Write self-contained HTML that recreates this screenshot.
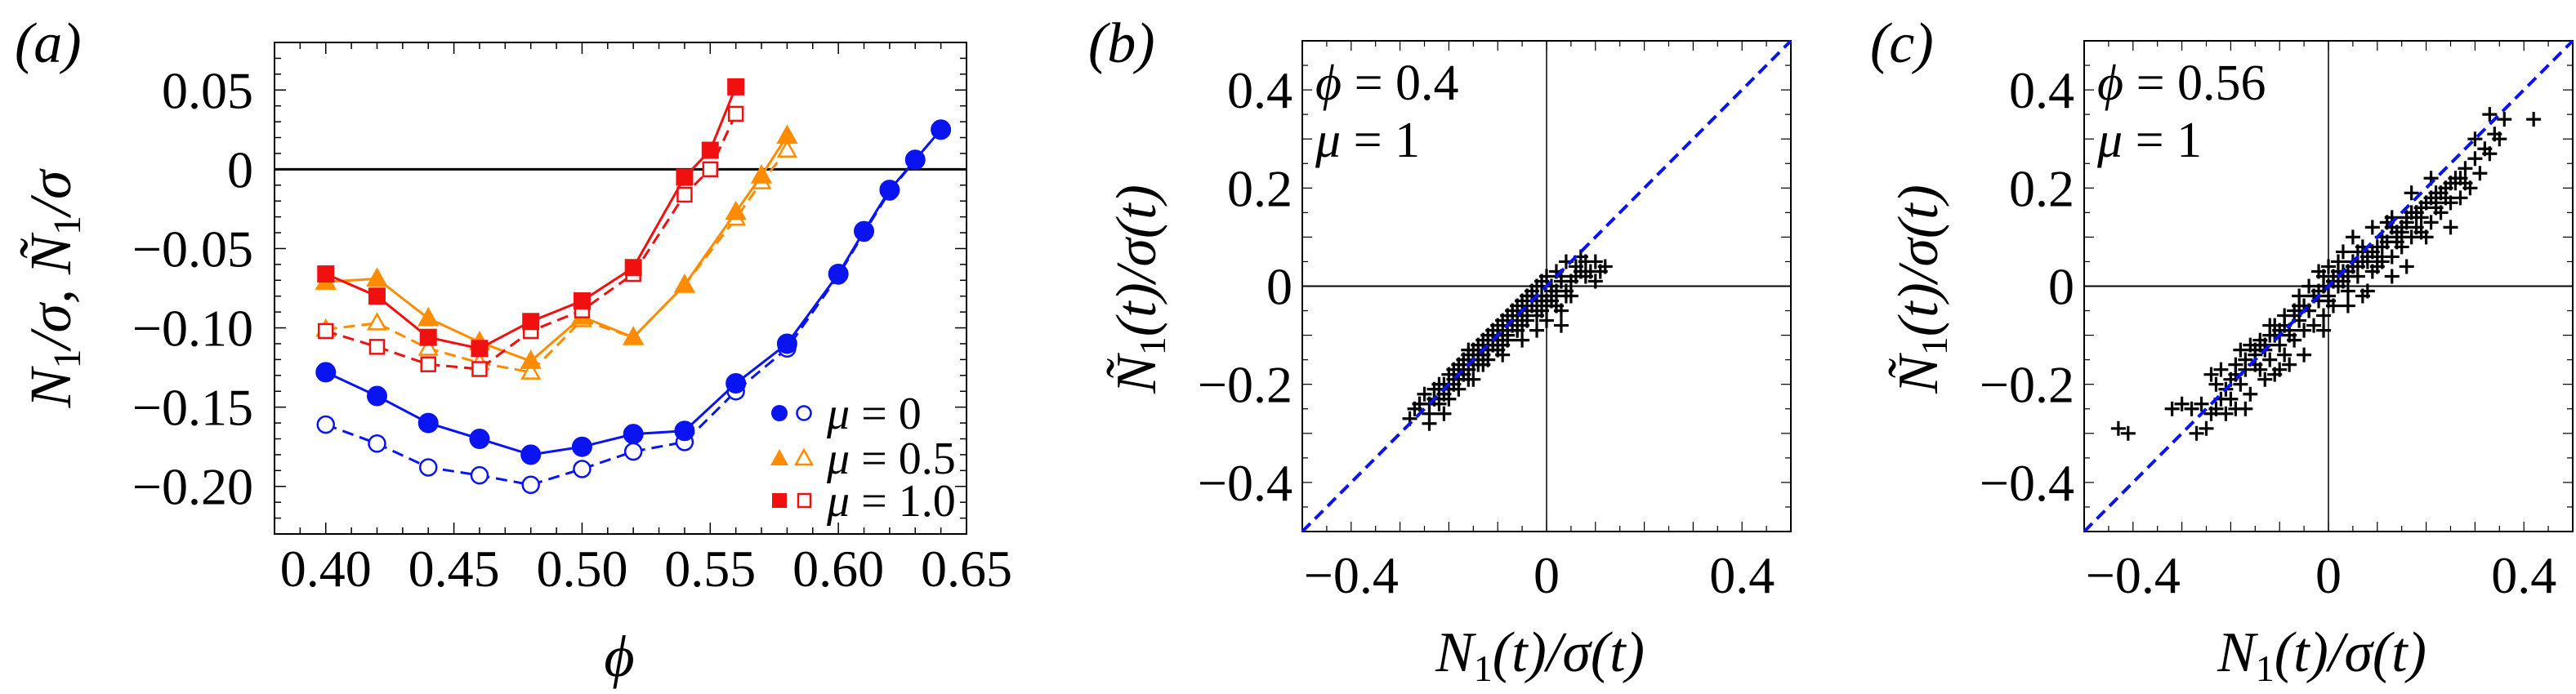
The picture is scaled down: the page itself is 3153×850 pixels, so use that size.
<!DOCTYPE html>
<html><head><meta charset="utf-8">
<style>
html,body{margin:0;padding:0;background:#fff;}
svg{display:block;font-family:"Liberation Serif","DejaVu Serif",serif;}
</style></head>
<body>
<svg id="fig" width="3153" height="850" viewBox="0 0 3153 850" xmlns="http://www.w3.org/2000/svg"></svg>
<script>
// ---------- Panel (a) data ----------
const phiMu0 = [0.40,0.42,0.44,0.46,0.48,0.50,0.52,0.54,0.56,0.58,0.60,0.61,0.62,0.63,0.64];
const n1Mu0 = [-0.128,-0.143,-0.160,-0.170,-0.180,-0.175,-0.167,-0.165,-0.135,-0.110,-0.066,-0.039,-0.013,0.006,0.025];
const n1tMu0 = [-0.161,-0.173,-0.188,-0.193,-0.199,-0.189,-0.178,-0.172,-0.140,-0.113,-0.067,-0.040,-0.014,0.006,0.025];
const phiMu05 = [0.40,0.42,0.44,0.46,0.48,0.50,0.52,0.54,0.56,0.57,0.58];
const n1Mu05 = [-0.071,-0.069,-0.094,-0.109,-0.121,-0.093,-0.106,-0.073,-0.027,-0.004,0.021];
const n1tMu05 = [-0.101,-0.097,-0.113,-0.122,-0.128,-0.095,-0.106,-0.073,-0.031,-0.008,0.012];
const phiMu1 = [0.40,0.42,0.44,0.46,0.48,0.50,0.52,0.54,0.55,0.56];
const n1Mu1 = [-0.066,-0.080,-0.106,-0.113,-0.096,-0.083,-0.062,-0.005,0.012,0.052];
const n1tMu1 = [-0.102,-0.112,-0.123,-0.126,-0.102,-0.089,-0.066,-0.016,0.000,0.035];
const aXTicks = [0.40,0.45,0.50,0.55,0.60,0.65];
const aXTickLabels = ["0.40","0.45","0.50","0.55","0.60","0.65"];
const aYTicks = [0.05,0,-0.05,-0.10,-0.15,-0.20];
const aYTickLabels = ["0.05","0","\u22120.05","\u22120.10","\u22120.15","\u22120.20"];
// ---------- Panels (b),(c) data ----------
const sTicks = [-0.4,0,0.4];
const sTickLabels = ["\u22120.4","0","0.4"];
const sYTicks = [0.4,0.2,0,-0.2,-0.4];
const sYTickLabels = ["0.4","0.2","0","\u22120.2","\u22120.4"];
const scatterBX = [-0.28,-0.27,-0.26,-0.25,-0.24,-0.23,-0.22,-0.22,-0.21,-0.20,-0.20,-0.19,-0.19,-0.18,-0.18,-0.17,-0.17,-0.16,-0.16,-0.15,-0.15,-0.14,-0.14,-0.13,-0.13,-0.12,-0.12,-0.11,-0.11,-0.10,-0.10,-0.09,-0.09,-0.08,-0.08,-0.07,-0.07,-0.06,-0.06,-0.05,-0.05,-0.04,-0.04,-0.03,-0.03,-0.02,-0.02,-0.01,-0.01,0.00,0.00,0.01,0.01,0.02,0.02,0.03,0.03,0.04,0.05,0.05,0.06,0.07,0.08,0.09,0.10,0.11,0.12,0.02,0.03,0.00,-0.02,-0.05,-0.09,-0.13,-0.21,-0.24,-0.26,-0.15,-0.12,-0.08,-0.06,-0.04,-0.10,-0.14,0.04,0.06,-0.01,-0.03,-0.07,-0.11,-0.16,
  -0.23,-0.21,-0.19,-0.17,-0.15,-0.13,-0.11,-0.09,-0.07,-0.05,-0.03,-0.01,0.01,0.03,-0.20,-0.18,-0.16,-0.14,-0.12,-0.10,-0.08,-0.06,-0.04,-0.02,0.00,0.02,0.04,0.08,0.10,0.07,-0.24,-0.22,-0.18,-0.14,-0.10,-0.06,-0.02,0.01,-0.20,-0.17,-0.13,-0.09,-0.05];
const scatterBY = [-0.27,-0.25,-0.24,-0.22,-0.26,-0.21,-0.24,-0.20,-0.22,-0.18,-0.21,-0.17,-0.20,-0.16,-0.19,-0.15,-0.18,-0.14,-0.17,-0.13,-0.16,-0.12,-0.15,-0.11,-0.14,-0.10,-0.13,-0.09,-0.12,-0.08,-0.11,-0.07,-0.10,-0.06,-0.09,-0.05,-0.08,-0.04,-0.07,-0.03,-0.06,-0.02,-0.05,-0.01,-0.04,0.00,-0.03,0.01,-0.05,0.02,-0.03,0.00,-0.02,0.03,-0.01,0.02,-0.05,0.05,0.01,-0.02,0.04,0.06,0.05,0.03,0.05,0.03,0.04,-0.04,-0.08,-0.07,-0.09,-0.11,-0.14,-0.16,-0.26,-0.28,-0.24,-0.19,-0.12,-0.11,-0.09,-0.07,-0.13,-0.15,-0.01,0.02,-0.02,-0.02,-0.06,-0.10,-0.13,
  -0.23,-0.20,-0.19,-0.17,-0.15,-0.12,-0.11,-0.09,-0.06,-0.05,-0.02,-0.02,-0.01,0.01,-0.23,-0.21,-0.19,-0.16,-0.15,-0.12,-0.10,-0.09,-0.06,-0.05,-0.04,-0.04,-0.02,0.02,0.01,0.03,-0.24,-0.21,-0.18,-0.14,-0.10,-0.06,-0.06,-0.03,-0.21,-0.16,-0.14,-0.12,-0.08];
const scatterCX = [-0.43,-0.41,-0.32,-0.30,-0.28,-0.26,-0.24,-0.23,-0.22,-0.21,-0.20,-0.27,-0.25,-0.19,-0.17,-0.24,-0.23,-0.22,-0.21,-0.20,-0.19,-0.18,-0.17,-0.16,-0.15,-0.14,-0.13,-0.12,-0.11,-0.16,-0.14,-0.12,-0.10,-0.09,-0.08,-0.07,-0.06,-0.05,-0.04,-0.03,-0.02,-0.01,0.00,0.01,-0.06,-0.04,-0.02,0.00,0.01,0.02,0.03,0.04,0.05,0.06,0.07,0.08,0.09,0.10,0.11,0.12,0.13,0.14,0.15,0.16,0.17,0.18,0.19,0.20,0.21,0.22,0.23,0.24,0.25,0.26,0.27,0.28,0.29,0.30,0.31,0.32,0.33,0.34,0.35,0.36,0.33,0.42,0.30,0.25,0.20,0.16,0.13,0.08,0.04,-0.01,-0.05,-0.08,-0.10,0.05,0.09,0.13,0.17,0.21,0.07,0.03,-0.01,0.10,0.14,0.18,0.22,0.26,-0.09,-0.11,-0.13,-0.15,-0.18,0.02,0.06,0.11,0.15,0.19,0.24,0.28,-0.07,-0.03,0.00,0.04,-0.12,
  -0.19,-0.15,-0.11,-0.07,-0.03,0.01,0.05,0.09,0.13,0.17,0.21,0.25,-0.17,-0.13,-0.09,-0.05,-0.01,0.03,0.07,0.11,0.15,0.19,0.23,0.27,-0.14,-0.10,-0.06,-0.02,0.02,0.06,0.10,0.14,0.18,0.22,0.12,0.16,0.08,0.04,0.00,-0.04,-0.08];
const scatterCY = [-0.29,-0.30,-0.25,-0.24,-0.25,-0.24,-0.26,-0.25,-0.23,-0.26,-0.23,-0.30,-0.29,-0.25,-0.25,-0.18,-0.20,-0.17,-0.21,-0.19,-0.16,-0.20,-0.17,-0.22,-0.14,-0.17,-0.19,-0.15,-0.18,-0.12,-0.11,-0.10,-0.12,-0.14,-0.09,-0.11,-0.07,-0.09,-0.05,-0.08,-0.03,-0.06,-0.02,-0.04,-0.02,0.00,0.03,0.04,0.02,0.00,0.03,-0.01,0.05,0.02,-0.02,0.06,0.03,0.08,0.05,0.09,0.06,0.11,0.08,0.13,0.10,0.15,0.11,0.17,0.13,0.19,0.15,0.20,0.17,0.22,0.18,0.24,0.20,0.26,0.23,0.28,0.27,0.31,0.30,0.34,0.35,0.34,0.30,0.12,0.10,0.04,0.02,-0.01,-0.04,-0.09,-0.14,-0.16,-0.17,0.10,0.12,0.14,0.19,0.22,0.08,0.07,0.02,0.04,0.09,0.12,0.16,0.21,-0.06,-0.08,-0.13,-0.16,-0.13,0.05,0.07,0.10,0.12,0.14,0.18,0.21,-0.05,-0.02,0.00,0.02,-0.08,
  -0.18,-0.13,-0.10,-0.06,-0.02,0.01,0.04,0.07,0.12,0.15,0.18,0.21,-0.15,-0.12,-0.08,-0.04,0.00,0.01,0.05,0.08,0.11,0.16,0.19,0.22,-0.12,-0.09,-0.04,-0.01,0.03,0.04,0.06,0.10,0.15,0.17,0.13,0.14,0.05,0.03,-0.03,-0.05,-0.10];

const NS = "http://www.w3.org/2000/svg";
const svg = document.getElementById('fig');
function el(tag, attrs, parent) {
  const e = document.createElementNS(NS, tag);
  for (const k in attrs) e.setAttribute(k, attrs[k]);
  (parent || svg).appendChild(e);
  return e;
}
const FS = 64;

// ---------- Panel (a) ----------
const A = {x0:336, x1:1183, y0:52, y1:654, xmin:0.38, xmax:0.65, ymin:-0.23, ymax:0.08};
function ax(v){ return A.x0 + (v - A.xmin) / (A.xmax - A.xmin) * (A.x1 - A.x0); }
function ay(v){ return A.y1 - (v - A.ymin) / (A.ymax - A.ymin) * (A.y1 - A.y0); }
const gA = el('g', {});



for (let i = 0; i <= 27; i++) {
  const v = 0.38 + i * 0.01; const x = ax(v);
  const major = (Math.round(v * 100) % 5) === 0;
  const L = major ? 14 : 8;
  el('line', {x1:x, y1:A.y1, x2:x, y2:A.y1 - L, stroke:'#000', 'stroke-width':1.5}, gA);
  el('line', {x1:x, y1:A.y0, x2:x, y2:A.y0 + L, stroke:'#000', 'stroke-width':1.5}, gA);
}
for (let i = 0; i <= 31; i++) {
  const v = -0.23 + i * 0.01; const y = ay(v);
  const major = Math.abs(Math.round(v * 100) % 5) === 0;
  const L = major ? 14 : 8;
  el('line', {x1:A.x0, y1:y, x2:A.x0 + L, y2:y, stroke:'#000', 'stroke-width':1.5}, gA);
  el('line', {x1:A.x1, y1:y, x2:A.x1 - L, y2:y, stroke:'#000', 'stroke-width':1.5}, gA);
}
const zeroA = el('line', {x1:A.x0, y1:ay(0), x2:A.x1, y2:ay(0), stroke:'#000', 'stroke-width':3}, gA);


const frameA = el('rect', {x:A.x0, y:A.y0, width:A.x1 - A.x0, height:A.y1 - A.y0, fill:'none', stroke:'#000', 'stroke-width':2}, gA);



aXTicks.forEach((v, i) => {
  const t = el('text', {x:ax(v), y:718, 'font-size':FS, 'text-anchor':'middle'}, gA);
  t.textContent = aXTickLabels[i];
  
  
});
aYTicks.forEach((v, i) => {
  const t = el('text', {x:310, y:ay(v) + 22, 'font-size':FS, 'text-anchor':'end'}, gA);
  t.textContent = aYTickLabels[i];
  
  
});

function series(xs, ys, color, dashed, shape, filled, name) {
  const g = el('g', {}, gA);
  
  
  const pts = xs.map((x, i) => ax(x) + ',' + ay(ys[i])).join(' ');
  const pl = el('polyline', {points:pts, fill:'none', stroke:color, 'stroke-width':3}, g);
  if (dashed) pl.setAttribute('stroke-dasharray', '14,8');
  xs.forEach((x, i) => {
    const cx = ax(x), cy = ay(ys[i]);
    const fill = filled ? color : '#fff';
    let m;
    if (shape === 'circle') {
      m = el('circle', {cx:cx, cy:cy, r:filled ? 12 : 10, fill:fill, stroke:color, 'stroke-width':filled ? 1 : 2.5}, g);
    } else if (shape === 'tri') {
      const r = filled ? 13 : 11;
      m = el('polygon', {points:`${cx},${cy - r} ${cx - r * 0.95},${cy + r * 0.7} ${cx + r * 0.95},${cy + r * 0.7}`, fill:fill, stroke:color, 'stroke-width':filled ? 1 : 2.5}, g);
    } else {
      const s = filled ? 20 : 17;
      m = el('rect', {x:cx - s / 2, y:cy - s / 2, width:s, height:s, fill:fill, stroke:color, 'stroke-width':filled ? 1 : 2.5}, g);
    }
    
    
  });
}
const BLUE = '#0a14f0', ORANGE = '#ff8c00', RED = '#f01010';
series(phiMu0, n1tMu0, BLUE, true, 'circle', false, 'series-mu0-open');
series(phiMu0, n1Mu0, BLUE, false, 'circle', true, 'series-mu0-filled');
series(phiMu05, n1tMu05, ORANGE, true, 'tri', false, 'series-mu05-open');
series(phiMu05, n1Mu05, ORANGE, false, 'tri', true, 'series-mu05-filled');
series(phiMu1, n1tMu1, RED, true, 'square', false, 'series-mu1-open');
series(phiMu1, n1Mu1, RED, false, 'square', true, 'series-mu1-filled');

const leg = el('g', {}, gA);


const legLabels = ["0", "0.5", "1.0"];
const legColors = [BLUE, ORANGE, RED];
const legShapes = ['circle', 'tri', 'square'];
[506, 561, 613].forEach((y, i) => {
  const c = legColors[i];
  const g = el('g', {}, leg);
  
  
  if (legShapes[i] === 'circle') {
    el('circle', {cx:954, cy:y, r:10, fill:c}, g);
    el('circle', {cx:984, cy:y, r:8.5, fill:'#fff', stroke:c, 'stroke-width':2.5}, g);
  } else if (legShapes[i] === 'tri') {
    el('polygon', {points:`954,${y - 11} 943,${y + 9} 965,${y + 9}`, fill:c}, g);
    el('polygon', {points:`984,${y - 10} 974,${y + 8} 994,${y + 8}`, fill:'#fff', stroke:c, 'stroke-width':2.5}, g);
  } else {
    el('rect', {x:945, y:y - 9, width:18, height:18, fill:c}, g);
    el('rect', {x:977, y:y - 8, width:15, height:16, fill:'#fff', stroke:c, 'stroke-width':2.5}, g);
  }
  const t = el('text', {x:1012, y:y + 19, 'font-size':56}, g);
  t.innerHTML = '<tspan font-style="italic">\u03bc</tspan> = ' + legLabels[i];
});

const la = el('text', {x:18, y:76, 'font-size':70, 'font-style':'italic'});
la.textContent = '(a)';


const yla = el('text', {x:0, y:0, 'font-size':72, 'text-anchor':'middle', transform:'translate(86,354) rotate(-90)', 'font-style':'italic'});
yla.innerHTML = 'N<tspan font-size="48" dy="12" font-style="normal">1</tspan><tspan dy="-12">/\u03c3, N\u0303</tspan><tspan font-size="48" dy="12" font-style="normal">1</tspan><tspan dy="-12">/\u03c3</tspan>';


const xla = el('text', {x:758, y:828, 'font-size':72, 'font-style':'italic', 'text-anchor':'middle'});
xla.textContent = '\u03d5';



// ---------- Scatter panels ----------
function scatterPanel(P, xs, ys, label, phiText, name) {
  function sx(v){ return P.x0 + (v + 0.5) * (P.x1 - P.x0); }
  function sy(v){ return P.y1 - (v + 0.5) * (P.y1 - P.y0); }
  const g = el('g', {});
  
  
  for (let i = 0; i <= 20; i++) {
    const v = -0.5 + i * 0.05;
    const major = i % 2 === 0; const L = major ? 12 : 7;
    el('line', {x1:sx(v), y1:P.y1, x2:sx(v), y2:P.y1 - L, stroke:'#000', 'stroke-width':1.2}, g);
    el('line', {x1:sx(v), y1:P.y0, x2:sx(v), y2:P.y0 + L, stroke:'#000', 'stroke-width':1.2}, g);
    el('line', {x1:P.x0, y1:sy(v), x2:P.x0 + L, y2:sy(v), stroke:'#000', 'stroke-width':1.2}, g);
    el('line', {x1:P.x1, y1:sy(v), x2:P.x1 - L, y2:sy(v), stroke:'#000', 'stroke-width':1.2}, g);
  }
  el('line', {x1:sx(0), y1:P.y0, x2:sx(0), y2:P.y1, stroke:'#000', 'stroke-width':1.5}, g);
  el('line', {x1:P.x0, y1:sy(0), x2:P.x1, y2:sy(0), stroke:'#000', 'stroke-width':2}, g);
  const fr = el('rect', {x:P.x0, y:P.y0, width:P.x1 - P.x0, height:P.y1 - P.y0, fill:'none', stroke:'#000', 'stroke-width':2}, g);
  
  
  const pg = el('g', {stroke:'#000', 'stroke-width':3.2}, g);
  
  
  xs.forEach((x, i) => {
    const cx = sx(x), cy = sy(ys[i]);
    const p = el('path', {d:`M${cx - 9},${cy}H${cx + 9}M${cx},${cy - 9}V${cy + 9}`}, pg);
    
    
  });
  const dl = el('line', {x1:sx(-0.5), y1:sy(-0.5), x2:sx(0.5), y2:sy(0.5), stroke:'#0a14f0', 'stroke-width':4, 'stroke-dasharray':'14,8'}, g);
  
  
  sTicks.forEach((v, i) => {
    const t = el('text', {x:sx(v), y:726, 'font-size':FS, 'text-anchor':'middle'}, g);
    t.textContent = sTickLabels[i];
    
    
  });
  sYTicks.forEach((v, i) => {
    const t = el('text', {x:P.x0 - 12, y:sy(v) + 22, 'font-size':FS, 'text-anchor':'end'}, g);
    t.textContent = sYTickLabels[i];
    
    
  });
  const an = el('text', {x:P.x0 + 16, y:122, 'font-size':62}, g);
  an.innerHTML = '<tspan font-style="italic">\u03d5</tspan> = ' + phiText;
  
  
  const an2 = el('text', {x:P.x0 + 16, y:192, 'font-size':62}, g);
  an2.innerHTML = '<tspan font-style="italic">\u03bc</tspan> = 1';
  
  
  const lb = el('text', {x:P.x0 - 262, y:76, 'font-size':70, 'font-style':'italic'}, g);
  lb.textContent = label;
  
  
  const yl = el('text', {x:0, y:0, 'font-size':70, 'font-style':'italic', 'text-anchor':'middle', transform:`translate(${P.x0 - 180},354) rotate(-90)`}, g);
  yl.innerHTML = 'N\u0303<tspan font-size="46" dy="12" font-style="normal">1</tspan><tspan dy="-12">(t)/\u03c3(t)</tspan>';
  
  
  const xl = el('text', {x:(P.x0 + P.x1) / 2 - 8, y:822, 'font-size':70, 'font-style':'italic', 'text-anchor':'middle'}, g);
  xl.innerHTML = 'N<tspan font-size="46" dy="12" font-style="normal">1</tspan><tspan dy="-12">(t)/\u03c3(t)</tspan>';
  
  
}
scatterPanel({x0:1594, x1:2192, y0:50, y1:651}, scatterBX, scatterBY, '(b)', '0.4', 'panel-b');
scatterPanel({x0:2551, x1:3149, y0:50, y1:651}, scatterCX, scatterCY, '(c)', '0.56', 'panel-c');
</script>
</body></html>
